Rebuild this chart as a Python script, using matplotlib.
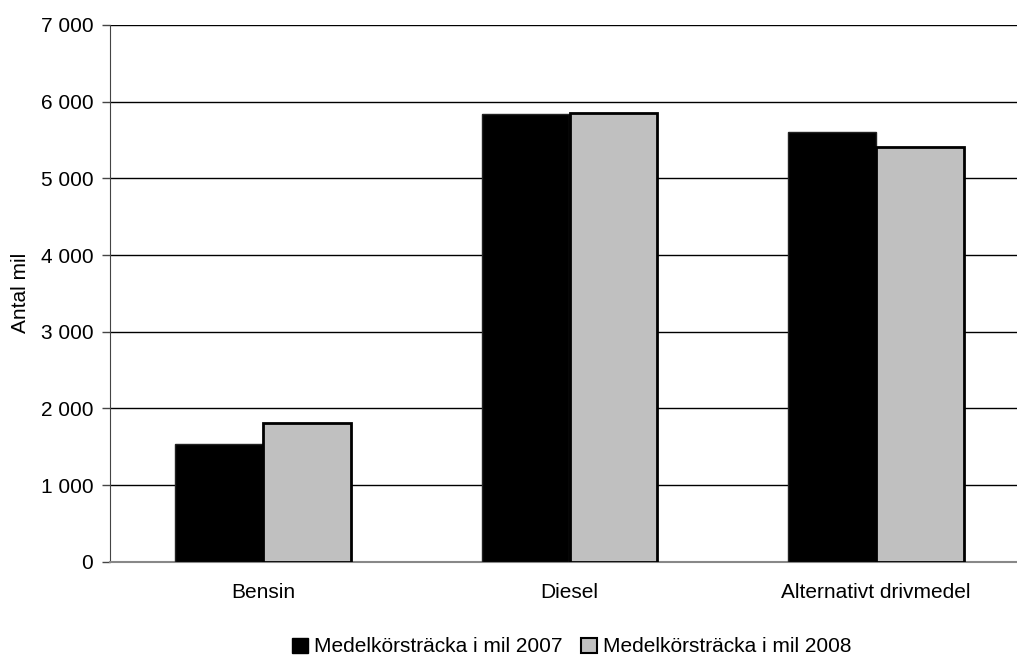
import matplotlib
matplotlib.use("Agg")
import matplotlib.pyplot as plt
from matplotlib.ticker import FuncFormatter
from matplotlib.patches import Patch
import numpy as np

categories = ["Bensin", "Diesel", "Alternativt drivmedel"]
series_names = ["Medelkörsträcka i mil 2007", "Medelkörsträcka i mil 2008"]
values_2007 = [1530, 5845, 5610]
values_2008 = [1815, 5850, 5405]

plt.rcParams["font.family"] = ["Liberation Sans", "DejaVu Sans"]
plt.rcParams["font.size"] = 15

W, H = 1017, 658
fig = plt.figure(figsize=(W / 100, H / 100), dpi=100)
# plot area runs from x=110 px to a bit past the right edge of the canvas
left, right, top, bottom = 110, 1029, 25, 561.7
ax = fig.add_axes([left / W, 1 - bottom / H, (right - left) / W, (bottom - top) / H])

x = np.arange(len(categories))
bw = 0.287
ax.bar(x - bw / 2, values_2007, bw, color="black", edgecolor="#222222", linewidth=1.0, zorder=3)
ax.bar(x + bw / 2, values_2008, bw, color="#c0c0c0", edgecolor="black", linewidth=2.0, zorder=3)

ax.set_xlim(-0.5, 2.5)
ax.set_ylim(0, 7000)
ax.set_yticks(np.arange(0, 7001, 1000))
ax.yaxis.set_major_formatter(FuncFormatter(lambda v, p: f"{int(v):,}".replace(",", " ")))
ax.yaxis.grid(True, color="black", linewidth=1.0, zorder=0)
ax.set_axisbelow(True)

ax.set_xticks(x)
ax.set_xticklabels(categories)
ax.tick_params(axis="x", length=0, pad=15)
ax.tick_params(axis="y", length=6, width=1, color="#444444", pad=6)

for s in ["top", "right"]:
    ax.spines[s].set_visible(False)
ax.spines["left"].set_color("#444444")
ax.spines["bottom"].set_color("#888888")
ax.spines["bottom"].set_linewidth(1.5)

ax.set_ylabel("Antal mil")
ax.yaxis.set_label_coords(-0.087, 0.5)

handles = [Patch(facecolor="black", edgecolor="black", linewidth=1),
           Patch(facecolor="#c0c0c0", edgecolor="black", linewidth=1.5)]
fig.legend(handles, series_names, loc="center", bbox_to_anchor=(572 / W, 1 - 647 / H),
           ncol=2, frameon=False, handlelength=0.75, handleheight=0.75,
           handletextpad=0.3, columnspacing=0.9, fontsize=15)

fig.savefig("out.png", dpi=100)
